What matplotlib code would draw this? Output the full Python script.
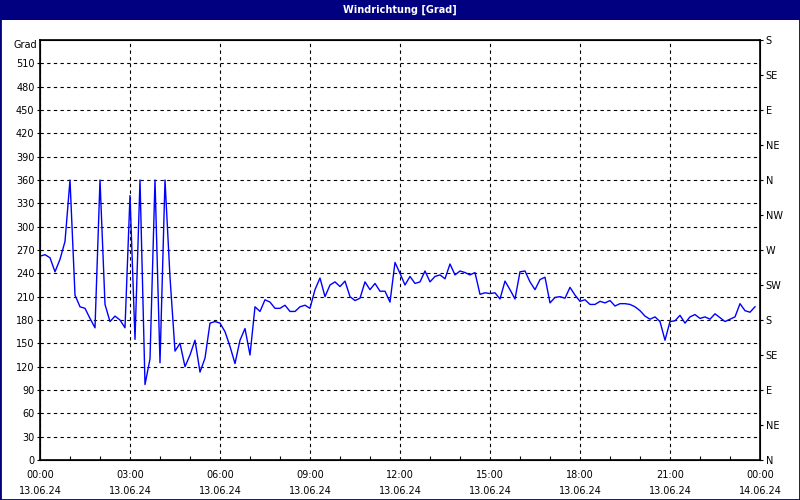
import matplotlib
matplotlib.use("Agg")
import matplotlib.pyplot as plt
import matplotlib.dates as mdates
import numpy as np
import pandas as pd

# Windrichtung in Grad, alle 10 Minuten ab 13.06.24 00:00
richtung = [
    262, 264, 260, 242, 258, 281, 360, 212, 197, 195, 182, 170,
    360, 200, 178, 185, 180, 170, 340, 155, 360, 97, 130, 360,
    125, 360, 235, 140, 150, 120, 135, 154, 113, 131, 176, 178,
    176, 165, 146, 124, 154, 169, 135, 197, 191, 206, 203, 195,
    195, 199, 191, 191, 197, 199, 195, 219, 234, 210, 225, 229,
    223, 230, 210, 205, 208, 229, 219, 227, 217, 217, 203, 254,
    240, 225, 236, 227, 229, 243, 229, 236, 238, 233, 252, 238,
    243, 241, 238, 241, 213, 215, 214, 215, 207, 230, 219, 207,
    242, 243, 229, 219, 232, 235, 202, 209, 210, 208, 222, 212,
    204, 206, 200, 200, 204, 202, 205, 198, 201, 201, 200, 197,
    192, 185, 181, 184, 178, 154, 178, 179, 186, 176, 184, 187,
    182, 184, 181, 188, 183, 178, 181, 184, 201, 192, 190, 197,
]
zeiten = pd.date_range("2024-06-13 00:00", periods=len(richtung), freq="10min")

links_ticks = list(range(0, 540, 30))
rechts_ticks = list(range(0, 541, 45))
rechts_labels = ["N", "NE", "E", "SE", "S", "SW", "W", "NW", "N", "NE", "E", "SE", "S"]
x_ticks = pd.date_range("2024-06-13 00:00", "2024-06-14 00:00", freq="3h")
x_labels = [t.strftime("%H:%M") + "\n" + t.strftime("%d.%m.%y") for t in x_ticks]

plt.rcParams["font.family"] = "DejaVu Sans"
plt.rcParams["font.size"] = 7

fig = plt.figure(figsize=(8, 5), dpi=100, facecolor="white")

# Titelleiste
fig.patches.append(plt.Rectangle((0, 0.96), 1, 0.04, transform=fig.transFigure,
                                 facecolor="#000080", edgecolor="none", zorder=0))
fig.patches.append(plt.Rectangle((0, 0), 1, 1, transform=fig.transFigure,
                                 facecolor="none", edgecolor="#000080", lw=2, zorder=5))
fig.text(0.5, 0.98, "Windrichtung [Grad]", color="white", fontweight="bold",
         ha="center", va="center", fontsize=7)

ax = fig.add_axes([0.05, 0.08, 0.90, 0.84])
ax.plot(zeiten, richtung, color="#0000FF", lw=1, zorder=3)

ax.set_ylim(0, 540)
ax.set_xlim(x_ticks[0], x_ticks[-1])
ax.set_yticks(links_ticks)
ax.set_xticks(x_ticks)
ax.set_xticklabels(x_labels, linespacing=1.75)
ax.xaxis.set_minor_locator(mdates.HourLocator())

ax.grid(True, which="major", color="black", linestyle=(0, (3, 3)), lw=0.8)
ax.tick_params(axis="x", which="major", length=0, pad=7)
ax.tick_params(axis="x", which="minor", direction="in", length=3, width=0.8)
ax.tick_params(axis="y", length=2, pad=2)
for s in ax.spines.values():
    s.set_linewidth(1.2)

ax.text(-0.004, 1.0, "Grad", transform=ax.transAxes, ha="right", va="top", fontsize=7)

ax2 = ax.twinx()
ax2.set_ylim(0, 540)
ax2.set_yticks(rechts_ticks)
ax2.set_yticklabels(rechts_labels)
ax2.tick_params(axis="y", length=2, pad=2)

fig.savefig("out.png", dpi=100, facecolor="white")
